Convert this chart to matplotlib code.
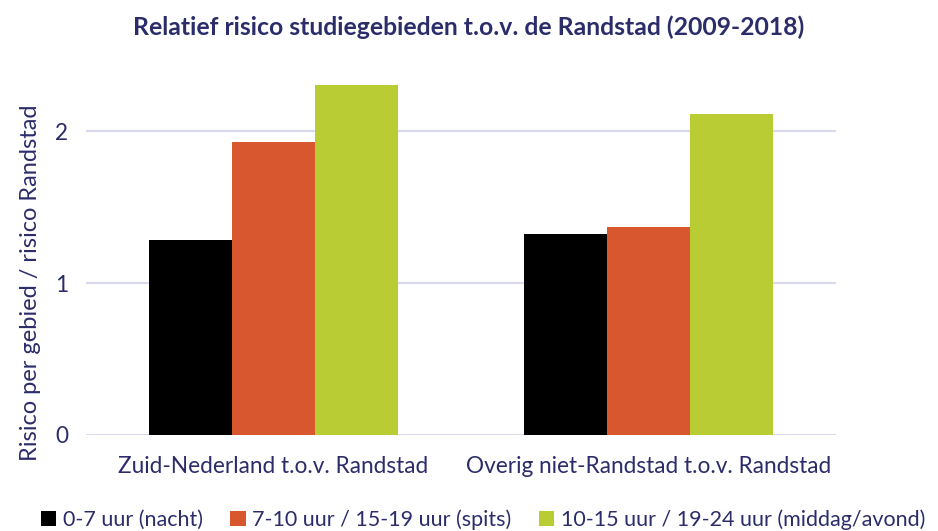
import numpy as np
import matplotlib.pyplot as plt
from matplotlib.patches import Patch

plt.rcParams['font.family'] = ['Lato', 'DejaVu Sans']

# data
categories = ['Zuid-Nederland t.o.v. Randstad', 'Overig niet-Randstad t.o.v. Randstad']
series_names = ['0-7 uur (nacht)', '7-10 uur / 15-19 uur (spits)',
                '10-15 uur / 19-24 uur (middag/avond)']
nacht = [1.28, 1.32]
spits = [1.93, 1.37]
middag = [2.30, 2.11]

colors = ['#000000', '#D9572E', '#B9CC33']
text_color = '#2B2D6B'
grid_color = '#D9D9EE'

fig = plt.figure(figsize=(9.38, 5.31), dpi=100)
ax = fig.add_axes([0.0917, 0.1808, 0.7996, 0.7156])

x = np.arange(len(categories))
w = 0.222
for i, (vals, c) in enumerate(zip([nacht, spits, middag], colors)):
    ax.bar(x + (i - 1) * w, vals, width=w, color=c, zorder=3)

ax.set_xlim(-0.5, 1.5)
ax.set_ylim(0, 2.5)
ax.set_yticks([0, 1, 2])
ax.yaxis.grid(True, color=grid_color, linewidth=1.5, zorder=0)
ax.set_xticks(x)
ax.set_xticklabels(categories)
for s in ax.spines.values():
    s.set_visible(False)
ax.tick_params(axis='both', length=0, labelsize=16.3, colors=text_color)
ax.tick_params(axis='x', pad=15)
ax.tick_params(axis='y', pad=13)
ax.set_ylabel('Risico per gebied / risico Randstad', fontsize=17, color=text_color)
ax.yaxis.set_label_coords(-0.06, 0.40)

fig.text(0.5, 0.949, 'Relatief risico studiegebieden t.o.v. de Randstad (2009-2018)',
         ha='center', va='center', fontsize=17.8, fontweight='bold', color=text_color)

handles = [Patch(facecolor=c) for c in colors]
fig.legend(handles, series_names, loc='lower center', bbox_to_anchor=(0.515, -0.035), ncol=3,
           frameon=False, fontsize=15.5, labelcolor=text_color, handlelength=0.7,
           handleheight=0.7, handletextpad=0.3, columnspacing=1.3)

fig.savefig('out.png', dpi=100)
